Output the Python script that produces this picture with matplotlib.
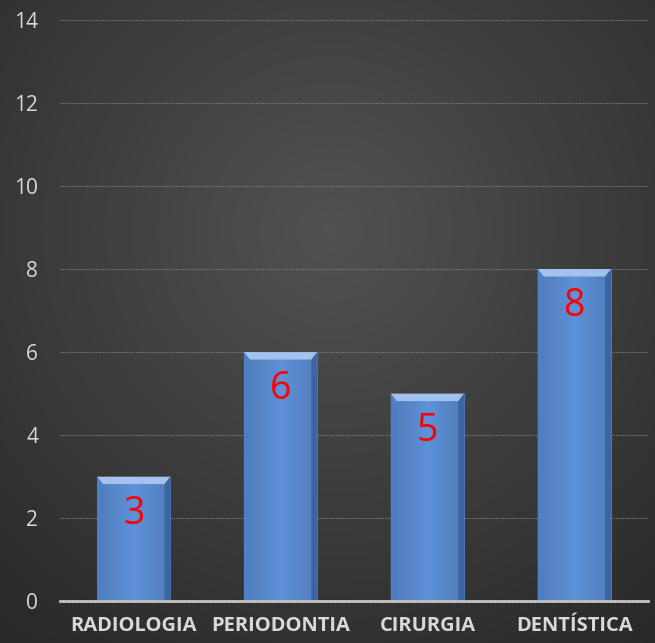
import numpy as np
import matplotlib
matplotlib.use('Agg')
import matplotlib.pyplot as plt
from matplotlib.patches import Polygon

categorias = ['RADIOLOGIA', 'PERIODONTIA', 'CIRURGIA', 'DENTÍSTICA']
valores = [3, 6, 5, 8]
yticks = [0, 2, 4, 6, 8, 10, 12, 14]

plt.rcParams['font.family'] = ['Open Sans', 'DejaVu Sans']

fig = plt.figure(figsize=(6.55, 6.43), dpi=100)

# radial gradient background
bg = fig.add_axes([0, 0, 1, 1])
yy, xx = np.mgrid[0:643, 0:655]
r = np.sqrt(((xx - 330) / 520.0) ** 2 + ((yy - 230) / 520.0) ** 2)
shade = np.clip(0.32 - 0.16 * r, 0.13, 0.4)
bg.imshow(np.dstack([shade, shade, shade]), aspect='auto', extent=[0, 1, 0, 1])
bg.set_axis_off()

ax = fig.add_axes([0.092, 0.065, 0.897, 0.904])
ax.patch.set_alpha(0)
x = np.arange(len(categorias))
bars = ax.bar(x, valores, width=0.5, color='#5b8ed6', zorder=3,
              edgecolor='#1f3350', linewidth=0.6)

# soft horizontal gradient inside each bar + bevel
grad = np.linspace(0, 1, 64)
prof = 1 - 0.15 * np.abs(grad - 0.5) * 2
base = np.array([0.37, 0.57, 0.85])
img = np.clip(base[None, None, :] * prof[None, :, None], 0, 1)
for b in bars:
    x0, w, h = b.get_x(), b.get_width(), b.get_height()
    im = ax.imshow(img, extent=[x0, x0 + w, 0, h], aspect='auto', zorder=4)
    im.set_clip_path(b)
    d = 0.18
    e = 0.04
    ax.add_patch(Polygon([[x0, h], [x0 + w, h], [x0 + w - e, h - d], [x0 + e, h - d]],
                         closed=True, facecolor='#a3c2ee', edgecolor='none', zorder=5))
    ax.add_patch(Polygon([[x0, h], [x0 + e, h - d], [x0 + e, 0], [x0, 0]],
                         closed=True, facecolor='#4e7fc4', edgecolor='none', zorder=5))
    ax.add_patch(Polygon([[x0 + w, h], [x0 + w - e, h - d], [x0 + w - e, 0], [x0 + w, 0]],
                         closed=True, facecolor='#3b659f', edgecolor='none', zorder=5))

for xi, v in zip(x, valores):
    ax.text(xi, v - 0.9, str(v), ha='center', va='center', color='#ff0000',
            fontsize=27, zorder=6)

ax.set_xlim(-0.5, len(categorias) - 0.5)
ax.set_ylim(0, 14)
ax.set_yticks(yticks)
ax.set_xticks(x)
ax.set_xticklabels(categorias, fontweight='bold', fontsize=14.5, color='#d9d9d9')
ax.tick_params(axis='y', colors='#d9d9d9', labelsize=15, length=0, pad=16)
ax.tick_params(axis='x', length=0, pad=11)
ax.grid(axis='y', color='#808080', linestyle=(0, (1, 1)), linewidth=0.8, zorder=1)
for s in ['top', 'right', 'left']:
    ax.spines[s].set_visible(False)
ax.spines['bottom'].set_color('#c0c0c0')
ax.spines['bottom'].set_linestyle((0, (1, 0.6)))
ax.spines['bottom'].set_linewidth(2)
ax.spines['bottom'].set_zorder(7)

fig.savefig('out.png', dpi=100)
